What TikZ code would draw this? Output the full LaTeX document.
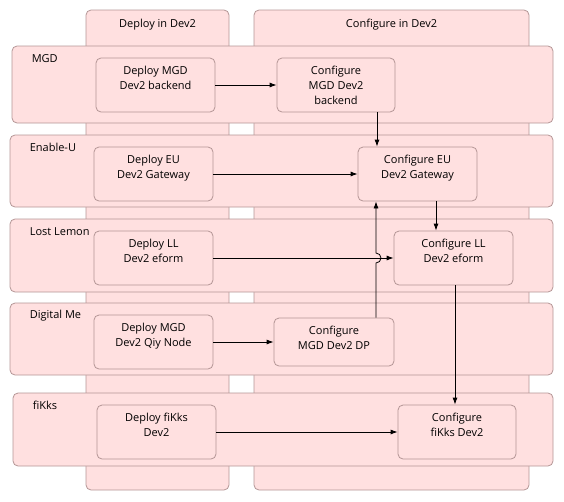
\documentclass[tikz,border=0pt]{standalone}
\usepackage{fontspec}
\setmainfont{Open Sans}
\usetikzlibrary{arrows.meta}

\definecolor{laneFill}{HTML}{FFE0E0}
\definecolor{laneLine}{HTML}{B49696}

\tikzset{
  box/.style={draw=laneLine, fill=laneFill, line width=0.8pt, rounded corners=5pt, inner sep=0pt},
  column/.style={box, minimum height=480pt},
  lane/.style={box},
  task/.style={box, minimum width=119pt, minimum height=54pt},
  txt/.style={font=\fontsize{11}{15}\selectfont, align=center, inner sep=0pt, text=black},
  arr/.style={draw=black, line width=0.8pt, -{Latex[length=7pt,width=5pt]}}
}

\begin{document}
\begin{tikzpicture}[x=1pt, y=-1pt]
\useasboundingbox (0,0) rectangle (564,501);

% Parametry
\def\lx{20}
\def\ly{13}

% ---------- Kolumny ----------
\node[column, minimum width=143pt, label={[txt, anchor=north, yshift=-9pt]north:Deploy in Dev2}] (colDeploy) at (157.5,250) {};
\node[column, minimum width=275pt, label={[txt, anchor=north, yshift=-9pt]north:Configure in Dev2}] (colConf) at (391.5,250) {};

% ---------- Pasy ----------
\node[lane, minimum width=541pt, minimum height=77pt, label={[txt, anchor=west, xshift=\lx pt, yshift=-\ly pt]north west:MGD}] (lMGD) at (282.5,84.5) {};
\node[lane, minimum width=543pt, minimum height=72pt, label={[txt, anchor=west, xshift=\lx pt, yshift=-\ly pt]north west:Enable-U}] (lEU) at (281.5,171) {};
\node[lane, minimum width=543pt, minimum height=73pt, label={[txt, anchor=west, xshift=\lx pt, yshift=-\ly pt]north west:Lost Lemon}] (lLL) at (281.5,255.5) {};
\node[lane, minimum width=543pt, minimum height=72pt, label={[txt, anchor=west, xshift=\lx pt, yshift=-\ly pt]north west:Digital Me}] (lDM) at (281.5,339) {};
\node[lane, minimum width=540pt, minimum height=73pt, label={[txt, anchor=west, xshift=\lx pt, yshift=-\ly pt]north west:fiKks}] (lFK) at (283,429.5) {};

% ---------- Zadania ----------
\node[task, label={[txt, anchor=north, yshift=-8pt]north:Deploy MGD\\Dev2 backend}] (dMGD) at (155.5,85) {};
\node[task, minimum width=118pt, label={[txt, anchor=north, yshift=-8pt]north:Configure\\MGD Dev2\\backend}] (cMGD) at (336,85) {};
\node[task, label={[txt, anchor=north, yshift=-8pt]north:Deploy EU\\Dev2 Gateway}] (dEU) at (153.5,174) {};
\node[task, label={[txt, anchor=north, yshift=-8pt]north:Configure EU\\Dev2 Gateway}] (cEU) at (417.5,174) {};
\node[task, label={[txt, anchor=north, yshift=-8pt]north:Deploy LL\\Dev2 eform}] (dLL) at (153.5,258) {};
\node[task, label={[txt, anchor=north, yshift=-8pt]north:Configure LL\\Dev2 eform}] (cLL) at (453.5,258) {};
\node[task, label={[txt, anchor=north, yshift=-8pt]north:Deploy MGD\\Dev2 Qiy Node}] (dQiy) at (153.5,342) {};
\node[task, minimum width=120pt, minimum height=48pt, label={[txt, anchor=north, yshift=-8pt]north:Configure\\MGD Dev2 DP}] (cDP) at (334,342) {};
\node[task, label={[txt, anchor=north, yshift=-8pt]north:Deploy fiKks\\Dev2}] (dFK) at (156.5,432) {};
\node[task, minimum width=118pt, label={[txt, anchor=north, yshift=-8pt]north:Configure\\fiKks Dev2}] (cFK) at (457,432) {};

% ---------- Strzalki ----------
\draw[arr] (dMGD) -- (cMGD);
\draw[arr] (dEU) -- (cEU);
\draw[arr] (dLL) -- (cLL);
\draw[arr] (dQiy) -- (cDP);
\draw[arr] (dFK) -- (cFK);

\coordinate (mgdOut) at ([xshift=41pt]cMGD.south);
\draw[arr] (mgdOut) -- (mgdOut |- cEU.north);
\coordinate (euOut) at ([xshift=18.5pt]cEU.south);
\draw[arr] (euOut) -- (euOut |- cLL.north);
\coordinate (llOut) at ([xshift=1.5pt]cLL.south);
\draw[arr] (llOut) -- (llOut |- cFK.north);

% DP -> EU, z mostkiem nad strzalka LL
\coordinate (dpOut) at ([xshift=42pt]cDP.north);
\coordinate (jump) at (dpOut |- dLL.east);
\draw[arr] (dpOut) -- ([yshift=-5pt]jump) arc[start angle=90, end angle=-90, radius=5] -- (dpOut |- cEU.south);

\end{tikzpicture}
\end{document}
